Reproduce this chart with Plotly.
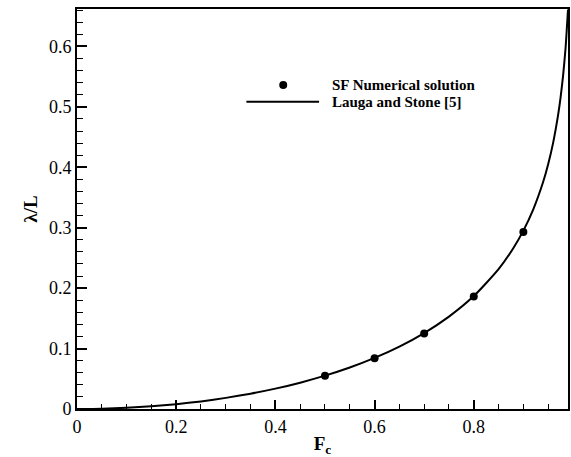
import plotly.graph_objects as go

# Lauga and Stone [5] curve: slip length vs. surface fraction
fc_curve = [0.0, 0.05, 0.1, 0.15, 0.2, 0.25, 0.3, 0.35, 0.4, 0.45, 0.5, 0.55,
            0.6, 0.65, 0.7, 0.75, 0.8, 0.85, 0.88, 0.9, 0.92, 0.94, 0.95,
            0.96, 0.97, 0.975, 0.98, 0.985, 0.99]
lam_curve = [0.0, 0.0005, 0.0020, 0.0045, 0.0080, 0.0126, 0.0184, 0.0254,
             0.0337, 0.0436, 0.0552, 0.0687, 0.0846, 0.1033, 0.1257, 0.1529,
             0.1869, 0.2315, 0.2665, 0.2952, 0.3305, 0.3761, 0.4051, 0.4405,
             0.4863, 0.5153, 0.5508, 0.5965, 0.6611]

# SF numerical solution
fc_num = [0.5, 0.6, 0.7, 0.8, 0.9]
lam_num = [0.055, 0.084, 0.125, 0.186, 0.293]

legend_labels = ["SF Numerical solution", "Lauga and Stone [5]"]

FONT = "Liberation Serif"

fig = go.Figure()
fig.add_trace(go.Scatter(x=fc_curve, y=lam_curve, mode="lines",
                         line=dict(color="black", width=2, shape="spline", smoothing=0.6),
                         name=legend_labels[1], showlegend=False))
fig.add_trace(go.Scatter(x=fc_num, y=lam_num, mode="markers",
                         marker=dict(color="black", size=8),
                         name=legend_labels[0], showlegend=False))

axis_common = dict(
    showgrid=False, zeroline=False, showline=True, linecolor="black",
    linewidth=2, mirror=True, ticks="inside", tickcolor="black",
)

fig.update_xaxes(range=[0, 0.99], dtick=0.2, tick0=0, ticklen=9, tickwidth=2,
                 tickfont=dict(family=FONT, size=18, color="black"),
                 minor=dict(dtick=0.05, ticks="inside", ticklen=5, tickwidth=1, tickcolor="black"),
                 title=dict(text="<b>F<sub>c</sub></b>", font=dict(family=FONT, size=19, color="black"),
                            standoff=3),
                 **axis_common)
fig.update_yaxes(range=[0, 0.662], dtick=0.1, tick0=0, ticklen=10, tickwidth=2,
                 tickfont=dict(family=FONT, size=18, color="black"),
                 minor=dict(dtick=0.02, ticks="inside", ticklen=6, tickwidth=1, tickcolor="black"),
                 title=dict(text="<b>λ/L</b>", font=dict(family=FONT, size=19, color="black"),
                            standoff=6),
                 **axis_common)

# Hand-built legend inside the plot area
fig.add_shape(type="circle", xref="paper", yref="paper", xsizemode="pixel", ysizemode="pixel",
              xanchor=0.42, yanchor=0.81, x0=-4, x1=4, y0=-4, y1=4,
              fillcolor="black", line=dict(color="black", width=0))
fig.add_shape(type="line", xref="paper", yref="paper", x0=0.345, x1=0.493, y0=0.768, y1=0.768,
              line=dict(color="black", width=2))
for txt, yy in zip(legend_labels, [0.81, 0.768]):
    fig.add_annotation(text=f"<b>{txt}</b>", xref="paper", yref="paper", x=0.515, y=yy,
                       xanchor="left", yanchor="middle", showarrow=False,
                       font=dict(family=FONT, size=15, color="black"))

fig.update_layout(width=571, height=457, margin=dict(l=77, r=1, t=9, b=48),
                  font=dict(family=FONT, color="black"),
                  paper_bgcolor="white", plot_bgcolor="white")

fig.write_html("out.html")
